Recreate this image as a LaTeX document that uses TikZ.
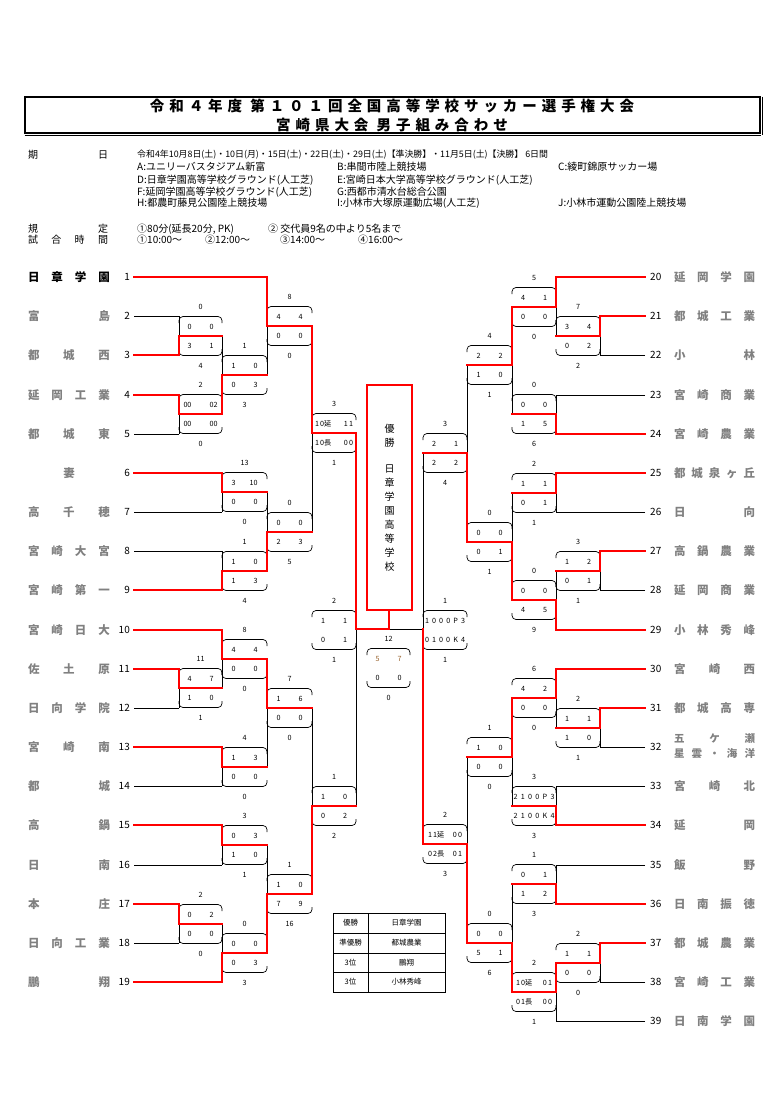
\documentclass[tikz,border=0pt]{standalone}
\usepackage{fontspec}
\setmainfont{Noto Sans CJK JP}
\usetikzlibrary{calc}

\definecolor{scorebrown}{RGB}{150,95,40}

\tikzset{
  win/.style={red, line width=1.8pt, line cap=rect},
  lose/.style={black, line width=0.7pt},
  capline/.style={black, line width=0.7pt, rounded corners=4pt},
  score/.style={inner sep=0pt, font=\fontsize{7.2}{8}\selectfont},
  tname/.style={inner sep=0pt, font=\bfseries\fontsize{11.5}{12}\selectfont},
  tno/.style={inner sep=0pt, font=\fontsize{10}{11}\selectfont},
  info/.style={anchor=west, inner sep=0pt, font=\fontsize{10}{11}\selectfont},
  infohead/.style={inner sep=0pt, font=\fontsize{10}{11}\selectfont},
  titletext/.style={inner sep=0pt, font=\bfseries\fontsize{14.5}{15}\selectfont\addfontfeatures{LetterSpace=34}},
  cell/.style={inner sep=0pt, font=\fontsize{7.5}{8}\selectfont},
  champ/.style={inner sep=0pt, font=\fontsize{10}{11}\selectfont},
}

% spread the characters of a name over a fixed box
\def\spreadaux#1#2{#1\ifx\relax#2\else\hfill\expandafter\spreadaux\expandafter#2\fi}
\newcommand{\spreadname}[1]{\spreadaux#1\relax}
% two scores in one row of a box
\newcommand{\sco}[3][26pt]{\makebox[#1]{#2\hfill#3}}
% score box: x left, x right, y mid, above, row1, row2, below
\newcommand{\scorebox}[7]{%
  \draw[capline] (#1,#3-13) -- (#1,#3-19.5) -- (#2,#3-19.5) -- (#2,#3-13);
  \draw[capline] (#1,#3+13) -- (#1,#3+19.5) -- (#2,#3+19.5) -- (#2,#3+13);
  \node[score] at ({(#1+#2)/2},#3-29.5) {#4};
  \node[score] at ({(#1+#2)/2},#3-9.5) {#5};
  \node[score] at ({(#1+#2)/2},#3+10) {#6};
  \node[score] at ({(#1+#2)/2},#3+30) {#7};
}

% x/next x/upper y/lower y/mid y/winner y/above/row1/row2/below
\def\matchlist{%
179/222/316/355/336/355/0/{\sco{0}{0}}/{\sco{3}{1}}/4,
179/222/395/434/414/395/2/{\sco[34pt]{00}{02}}/{\sco[34pt]{00}{00}}/0,
222/267/336/414/375/414/1/{\sco{1}{0}}/{\sco{0}{3}}/3,
267/312/277/375/326/277/8/{\sco{4}{4}}/{\sco{0}{0}}/0,
222/267/473/512/492/473/13/{\sco{3}{10}}/{\sco{0}{0}}/0,
222/267/551/590/571/590/1/{\sco{1}{0}}/{\sco{1}{3}}/4,
267/312/492/571/532/571/0/{\sco{0}{0}}/{\sco{2}{3}}/5,
312/356/326/532/433/326/3/{\sco[38pt]{1\,0延}{1\,1}}/{\sco[38pt]{1\,0長}{0\,0}}/1,
179/222/669/708/688/669/11/{\sco{4}{7}}/{\sco{1}{0}}/1,
222/267/630/688/659/630/8/{\sco{4}{4}}/{\sco{0}{0}}/0,
222/267/747/786/767/747/4/{\sco{1}{3}}/{\sco{0}{0}}/0,
267/312/659/767/708/659/7/{\sco{1}{6}}/{\sco{0}{0}}/0,
222/267/825/865/845/825/3/{\sco{0}{3}}/{\sco{1}{0}}/1,
179/222/904/943/924/904/2/{\sco{0}{2}}/{\sco{0}{0}}/0,
222/267/924/982/953/982/0/{\sco{0}{0}}/{\sco{0}{3}}/3,
267/312/845/953/894/953/1/{\sco{1}{0}}/{\sco{7}{9}}/16,
312/356/708/894/806/894/1/{\sco{1}{0}}/{\sco{0}{2}}/2,
600/556/316/355/336/316/7/{\sco{3}{4}}/{\sco{0}{2}}/2,
556/512/277/336/307/277/5/{\sco{4}{1}}/{\sco{0}{0}}/0,
556/512/395/434/414/434/0/{\sco{0}{0}}/{\sco{1}{5}}/6,
512/467/307/414/365/307/4/{\sco{2}{2}}/{\sco{1}{0}}/1,
556/512/473/512/493/473/2/{\sco{1}{1}}/{\sco{0}{1}}/1,
600/556/551/590/571/551/3/{\sco{1}{2}}/{\sco{0}{1}}/1,
556/512/571/630/600/630/0/{\sco{0}{0}}/{\sco{4}{5}}/9,
512/467/493/600/542/600/0/{\sco{0}{0}}/{\sco{0}{1}}/1,
467/423/365/542/453/542/3/{\sco{2}{1}}/{\sco{2}{2}}/4,
600/556/708/747/728/708/2/{\sco{1}{1}}/{\sco{1}{0}}/1,
556/512/669/728/698/669/6/{\sco{4}{2}}/{\sco{0}{0}}/0,
556/512/786/825/806/825/3/{\makebox[41pt]{2\hfill1\hfill0\hfill0\hfill P\hfill3}}/{\makebox[41pt]{2\hfill1\hfill0\hfill0\hfill K\hfill4}}/3,
512/467/698/806/757/698/1/{\sco{1}{0}}/{\sco{0}{0}}/0,
556/512/865/904/884/904/1/{\sco{0}{1}}/{\sco{1}{2}}/3,
600/556/943/982/963/943/2/{\sco{1}{1}}/{\sco{0}{0}}/0,
556/512/963/1021/992/963/2/{\sco[36pt]{1\,0延}{0\,1}}/{\sco[36pt]{0\,1長}{0\,0}}/1,
512/467/884/992/943/992/0/{\sco{0}{0}}/{\sco{5}{1}}/6,
467/423/757/943/844/943/2/{\sco[34pt]{1\,1延}{0\,0}}/{\sco[34pt]{0\,2長}{0\,1}}/3%
}

% number/y/end x/line style/name colour/name
\def\leftteams{%
1/277/267/win/black/{\spreadname{日章学園}},
2/316/179/lose/black!50/{\spreadname{富島}},
3/355/179/win/black!50/{\spreadname{都城西}},
4/395/179/win/black!50/{\spreadname{延岡工業}},
5/434/179/lose/black!50/{\spreadname{都城東}},
6/473/222/win/black!50/{\spreadname{妻}},
7/512/222/lose/black!50/{\spreadname{高千穂}},
8/551/222/lose/black!50/{\spreadname{宮崎大宮}},
9/590/222/win/black!50/{\spreadname{宮崎第一}},
10/630/222/win/black!50/{\spreadname{宮崎日大}},
11/669/179/win/black!50/{\spreadname{佐土原}},
12/708/179/lose/black!50/{\spreadname{日向学院}},
13/747/222/win/black!50/{\spreadname{宮崎南}},
14/786/222/lose/black!50/{\spreadname{都城}},
15/825/222/win/black!50/{\spreadname{高鍋}},
16/865/222/lose/black!50/{\spreadname{日南}},
17/904/179/win/black!50/{\spreadname{本庄}},
18/943/179/lose/black!50/{\spreadname{日向工業}},
19/982/222/win/black!50/{\spreadname{鵬翔}}%
}
\def\rightteams{%
20/277/556/win/{\spreadname{延岡学園}},
21/316/600/win/{\spreadname{都城工業}},
22/355/600/lose/{\spreadname{小林}},
23/395/556/lose/{\spreadname{宮崎商業}},
24/434/556/win/{\spreadname{宮崎農業}},
25/473/556/win/{\spreadname{都城泉ヶ丘}},
26/512/556/lose/{\spreadname{日向}},
27/551/600/win/{\spreadname{高鍋農業}},
28/590/600/lose/{\spreadname{延岡商業}},
29/630/556/win/{\spreadname{小林秀峰}},
30/669/556/win/{\spreadname{宮崎西}},
31/708/600/win/{\spreadname{都城高専}},
32/747/600/lose/{},
33/786/556/lose/{\spreadname{宮崎北}},
34/825/556/win/{\spreadname{延岡}},
35/865/556/lose/{\spreadname{飯野}},
36/904/556/win/{\spreadname{日南振徳}},
37/943/600/win/{\spreadname{都城農業}},
38/982/600/lose/{\spreadname{宮崎工業}},
39/1021/556/lose/{\spreadname{日南学園}}%
}

\begin{document}
\begin{tikzpicture}[x=1pt,y=-1pt]
\useasboundingbox (0,0) rectangle (782,1099);

% heading
\draw[line width=1.2pt] (25,97) rectangle (760,133);
\draw[line width=0.6pt] (24.5,135.5) -- (761,135.5);
\draw[line width=0.6pt] (762,97) -- (762,135.5);
\node[titletext] (title1) at (392,106) {令和４年度 第１０１回全国高等学校サッカー選手権大会};
\node[titletext] (title2) at (392,125) {宮崎県大会 男子組み合わせ};

\node[infohead] (h1) at (68,155) {\makebox[80pt]{\spreadname{期日}}};
\node[info, font=\fontsize{8.9}{10}\selectfont] (d1) at (137,155) {令和4年10月8日(土)・10日(月)・15日(土)・22日(土)・29日(土)【準決勝】・11月5日(土)【決勝】 6日間};
\node[info] (vA) at (137,167) {A:ユニリーバスタジアム新富};
\node[info] (vB) at (337,167) {B:串間市陸上競技場};
\node[info] (vC) at (558,167) {C:綾町錦原サッカー場};
\node[info] (vD) at (137,180) {D:日章学園高等学校グラウンド(人工芝)};
\node[info] (vE) at (337,180) {E:宮崎日本大学高等学校グラウンド(人工芝)};
\node[info] (vF) at (137,192) {F:延岡学園高等学校グラウンド(人工芝)};
\node[info] (vG) at (337,192) {G:西都市清水台総合公園};
\node[info] (vH) at (137,203) {H:都農町藤見公園陸上競技場};
\node[info] (vI) at (337,203) {I:小林市大塚原運動広場(人工芝)};
\node[info] (vJ) at (558,203) {J:小林市運動公園陸上競技場};
\node[infohead] (h2) at (68,229) {\makebox[80pt]{\spreadname{規定}}};
\node[info] (r1) at (137,229) {①80分(延長20分, PK)};
\node[info] (r2) at (268,229) {② 交代員9名の中より5名まで};
\node[infohead] (h3) at (68,240) {\makebox[80pt]{\spreadname{試合時間}}};
\node[info] (k1) at (137,240) {①10:00～};
\node[info] (k2) at (205,240) {②12:00～};
\node[info] (k3) at (280,240) {③14:00～};
\node[info] (k4) at (358,240) {④16:00～};

% teams
\foreach \n/\y/\xe/\st/\nc/\nm in \leftteams {
  \draw[\st] (134,\y) -- (\xe,\y);
  \node[tno, anchor=east] (nL\n) at (130,\y) {\n};
  \node[tname, text=\nc] (tL\n) at (69,\y) {\makebox[82pt]{\nm}};
}
\foreach \n/\y/\xe/\st/\nm in \rightteams {
  \draw[\st] (645,\y) -- (\xe,\y);
  \node[tno, anchor=west] (nR\n) at (650,\y) {\n};
  \node[tname, text=black!50] (tR\n) at (714.5,\y) {\makebox[81pt]{\nm}};
}
\node[tname, text=black!50, font=\bfseries\fontsize{10.5}{11}\selectfont] (tR32a) at (714.5,739) {\makebox[81pt]{\spreadname{五ケ瀬}}};
\node[tname, text=black!50, font=\bfseries\fontsize{10.5}{11}\selectfont] (tR32b) at (714.5,754) {\makebox[81pt]{\spreadname{星雲・海洋}}};

% bracket, black first
\foreach \x/\xn/\ya/\yb/\ym/\yw/\ab/\ra/\rb/\be in \matchlist {
  \draw[lose] (\x,\ya) -- (\x,\yb);
  \scorebox{\x}{\xn}{\ym}{\ab}{\ra}{\rb}{\be}
}
\draw[lose] (356,433) -- (356,806);
\draw[lose] (423,453) -- (423,844);
\draw[lose] (356,629) -- (423,629);
\scorebox{312}{356}{630}{2}{\sco{1}{1}}{\sco{0}{1}}{1}
\scorebox{423}{467}{630}{1}{\makebox[40pt]{1\hfill0\hfill0\hfill0\hfill P\hfill3}}{\makebox[40pt]{0\hfill1\hfill0\hfill0\hfill K\hfill4}}{1}
\scorebox{367}{410}{668}{12}{\sco{\textcolor{scorebrown}{5}}{\textcolor{scorebrown}{7}}}{\sco{0}{0}}{0}

% winners in red
\foreach \x/\xn/\ya/\yb/\ym/\yw/\ab/\ra/\rb/\be in \matchlist {
  \draw[win] (\x,\yw) -- (\x,\ym) -- (\xn,\ym);
}
\draw[win] (356,433) -- (356,629) -- (389,629) -- (389,610);
\draw[win] (423,629) -- (423,844);

% champion
\draw[win] (367,385) rectangle (412,610);
\foreach \ch/\yy [count=\k] in {優/429,勝/443,日/469,章/483,学/497,園/511,高/525,等/539,学/553,校/567}
  \node[champ] (c\k) at (389.5,\yy) {\ch};

% results table
\draw[line width=0.8pt] (333,913) rectangle (445,992);
\draw[line width=0.8pt] (368,913) -- (368,992);
\foreach \yy in {933,953,972}
  \draw[line width=0.8pt] (333,\yy) -- (445,\yy);
\foreach \a/\b/\yy [count=\k] in {優勝/日章学園/923,準優勝/都城農業/943,3位/鵬翔/962.5,3位/小林秀峰/982} {
  \node[cell] (rk\k) at (350.5,\yy) {\a};
  \node[cell] (rw\k) at (406.5,\yy) {\b};
}
\end{tikzpicture}
\end{document}
